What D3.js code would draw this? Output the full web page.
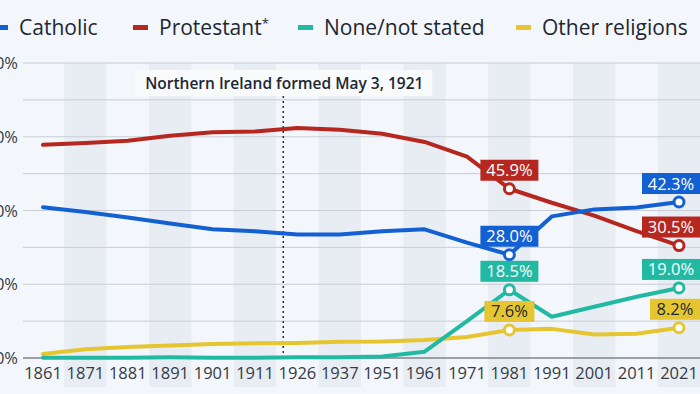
<!DOCTYPE html>
<html>
<head>
<meta charset="utf-8">
<script src="https://cdn.jsdelivr.net/npm/d3@7"></script>
<style>
  body { margin: 0; background: #f3f6fa; }
  svg { display: block; font-family: "Open Sans", sans-serif; }
</style>
</head>
<body>
<svg width="700" height="394"></svg>
<script>
const years = ["1861", "1871", "1881", "1891", "1901", "1911", "1926", "1937", "1951", "1961", "1971", "1981", "1991", "2001", "2011", "2021"];
const catholic = [40.9, 39.6, 38.1, 36.5, 34.9, 34.4, 33.5, 33.5, 34.4, 34.9, 31.3, 28.0, 38.4, 40.3, 40.8, 42.3];
const protestant = [57.8, 58.3, 58.9, 60.3, 61.2, 61.4, 62.4, 61.9, 60.8, 58.6, 54.6, 45.9, 42.1, 38.6, 34.4, 30.5];
const noneStated = [0.1, 0.1, 0.1, 0.2, 0.1, 0.1, 0.2, 0.2, 0.4, 1.7, 10.0, 18.5, 11.2, 13.9, 16.6, 19.0];
const otherRel = [1.1, 2.4, 3.0, 3.4, 3.8, 4.0, 4.1, 4.4, 4.5, 4.9, 5.7, 7.6, 7.9, 6.4, 6.6, 8.2];
const yTicks = [0, 20, 40, 60, 80];
const labelYears = ["1981", "2021"];

const seriesList = [
  { name: "Catholic", values: catholic, color: "#1360d3", text: "#fff" },
  { name: "Protestant*", values: protestant, color: "#b5271f", text: "#fff" },
  { name: "None/not stated", values: noneStated, color: "#22b9a2", text: "#fff" },
  { name: "Other religions", values: otherRel, color: "#e6c630", text: "#1d2733" }
];

const svg = d3.select("svg");
const plotLeft = 23, plotRight = 700, plotTop = 63, plotBottom = 358;

const x = d3.scalePoint().domain(years).range([43, 679]);
const step = x.step();
const y = d3.scaleLinear().domain([0, 80]).range([plotBottom, plotTop]);

// alternating column bands
svg.append("g").selectAll("rect")
  .data(years.filter((d, i) => i % 2 === 1))
  .enter().append("rect")
  .attr("x", d => x(d) - step / 2)
  .attr("y", plotTop)
  .attr("width", step)
  .attr("height", 387 - plotTop)
  .attr("fill", "#e8edf4");

// gridlines
svg.append("g").selectAll("line")
  .data(d3.range(10, 81, 10))
  .enter().append("line")
  .attr("x1", plotLeft).attr("x2", plotRight)
  .attr("y1", d => y(d)).attr("y2", d => y(d))
  .attr("stroke", "#c9ced6").attr("stroke-width", 1);

svg.append("line")
  .attr("x1", plotLeft).attr("x2", plotRight)
  .attr("y1", y(0)).attr("y2", y(0))
  .attr("stroke", "#7d848d").attr("stroke-width", 1.5);

// y labels (cut off at the left edge, as in the source image)
svg.append("g").selectAll("text")
  .data(yTicks)
  .enter().append("text")
  .attr("x", 18)
  .attr("y", d => y(d) + 6)
  .attr("text-anchor", "end")
  .attr("font-size", 16.5)
  .attr("fill", "#333b45")
  .text(d => d + "%");

// x axis labels
svg.append("g").selectAll("text")
  .data(years)
  .enter().append("text")
  .attr("x", d => x(d))
  .attr("y", 379)
  .attr("text-anchor", "middle")
  .attr("font-size", 16.5)
  .attr("fill", "#333b45")
  .text(d => d);

// 1921 marker, between 1911 and 1926
const x1921 = x("1911") + (x("1926") - x("1911")) * (1921 - 1911) / (1926 - 1911);
svg.append("line")
  .attr("x1", x1921).attr("x2", x1921)
  .attr("y1", 96).attr("y2", plotBottom)
  .attr("stroke", "#2a2f36").attr("stroke-width", 1.5)
  .attr("stroke-dasharray", "2,3");

svg.append("rect")
  .attr("x", x1921 - 148).attr("y", 70)
  .attr("width", 297).attr("height", 26)
  .attr("fill", "#f9fafc");
svg.append("text")
  .attr("x", x1921 + 1).attr("y", 88.5)
  .attr("text-anchor", "middle")
  .attr("font-size", 15.5)
  .attr("font-weight", 600)
  .attr("fill", "#1d2733")
  .text("Northern Ireland formed May 3, 1921");

// lines
const line = d3.line()
  .x((d, i) => x(years[i]))
  .y(d => y(d));

seriesList.slice().reverse().forEach(s => {
  svg.append("path")
    .datum(s.values)
    .attr("d", line)
    .attr("fill", "none")
    .attr("stroke", s.color)
    .attr("stroke-width", 4)
    .attr("stroke-linejoin", "round")
    .attr("stroke-linecap", "round");
});

// markers and value labels (kept inside the right edge)
seriesList.forEach(s => {
  labelYears.forEach(yr => {
    const v = s.values[years.indexOf(yr)];
    const cx = x(yr), cy = y(v);
    svg.append("circle")
      .attr("cx", cx).attr("cy", cy).attr("r", 5)
      .attr("fill", "#fff").attr("stroke", s.color).attr("stroke-width", 3);
    const txt = v.toFixed(1) + "%";
    const w = txt.length > 4 ? 58 : 50;
    const bx = Math.min(cx - w / 2, plotRight - w);
    svg.append("rect")
      .attr("x", bx).attr("y", cy - 29)
      .attr("width", w).attr("height", 21)
      .attr("fill", s.color);
    svg.append("text")
      .attr("x", bx + w / 2).attr("y", cy - 12.5)
      .attr("text-anchor", "middle")
      .attr("font-size", 16.5)
      .attr("font-weight", 500)
      .attr("fill", s.text)
      .text(txt);
  });
});

// legend
const legendX = [-7, 133, 298, 516];
const lg = svg.append("g");
seriesList.forEach((s, i) => {
  lg.append("rect")
    .attr("x", legendX[i]).attr("y", 25)
    .attr("width", 15).attr("height", 5)
    .attr("fill", s.color);
  lg.append("text")
    .attr("x", legendX[i] + 26).attr("y", 35)
    .attr("font-size", 21)
    .attr("fill", "#1d2733")
    .text(s.name.replace("*", ""))
    .append("tspan")
    .attr("font-size", 13)
    .attr("dy", -7)
    .text(s.name.endsWith("*") ? "*" : "");
});
</script>
</body>
</html>
